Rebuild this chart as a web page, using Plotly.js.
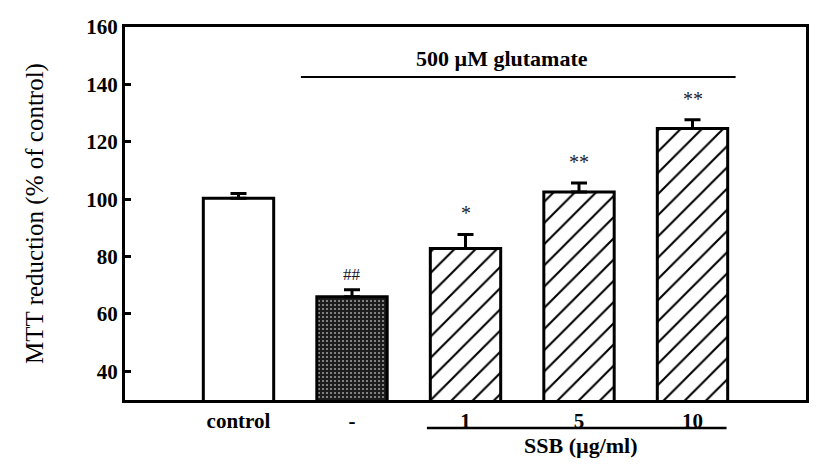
<!DOCTYPE html>
<html>
<head>
<meta charset="utf-8">
<script src="https://cdn.plot.ly/plotly-3.0.1.min.js"></script>
<style>html,body{margin:0;padding:0;background:#fff;}#chart{width:827px;height:468px;}</style>
</head>
<body>
<div id="chart"></div>
<script>
// Data
const categories = ['control', '-', '1', '5', '10'];
const means = [100.3, 66.0, 82.8, 102.5, 124.6];
const sems = [1.7, 2.4, 4.9, 3.1, 3.1];
const signifLabels = ['', '##', '*', '**', '**'];
const yTicks = [40, 60, 80, 100, 120, 140, 160];

const FONT = '"Liberation Serif", "Times New Roman", serif';

const controlBar = {
  type: 'bar', x: [categories[0]], y: [means[0]],
  width: 0.62,
  marker: {color: 'white', line: {color: 'black', width: 3}},
  error_y: {type: 'data', symmetric: false, array: [sems[0]], arrayminus: [0], color: 'black', thickness: 3, width: 8},
  showlegend: false, hoverinfo: 'skip'
};
const glutBar = {
  type: 'bar', x: [categories[1]], y: [means[1]],
  width: 0.62,
  marker: {color: '#1c1c1c', line: {color: 'black', width: 3},
    pattern: {shape: '.', bgcolor: '#1c1c1c', fgcolor: '#9a9a9a', size: 4, solidity: 0.22, fillmode: 'replace'}},
  error_y: {type: 'data', symmetric: false, array: [sems[1]], arrayminus: [0], color: 'black', thickness: 3, width: 8},
  showlegend: false, hoverinfo: 'skip'
};
const ssbBars = {
  type: 'bar', x: categories.slice(2), y: means.slice(2),
  width: 0.62,
  marker: {color: 'white', line: {color: 'black', width: 3},
    pattern: {shape: '/', bgcolor: 'white', fgcolor: 'black', size: 15, solidity: 0.14, fillmode: 'replace'}},
  error_y: {type: 'data', symmetric: false, array: sems.slice(2), arrayminus: [0, 0, 0], color: 'black', thickness: 3, width: 8},
  showlegend: false, hoverinfo: 'skip'
};

const annotations = [];
categories.forEach((c, i) => {
  if (signifLabels[i]) {
    const isHash = signifLabels[i] === '##';
    annotations.push({
      xref: 'x', yref: 'y', x: i, y: means[i] + sems[i],
      text: signifLabels[i], showarrow: false, yanchor: 'bottom', yshift: isHash ? 4 : 8,
      font: {family: FONT, size: isHash ? 17 : 20, color: '#1a1a2e'}
    });
  }
});
annotations.push({
  xref: 'paper', yref: 'paper', x: 0.553, y: 0.915, xanchor: 'center', yanchor: 'middle',
  text: '<b>500 \u00b5M glutamate</b>', showarrow: false,
  font: {family: FONT, size: 22, color: 'black'}
});
annotations.push({
  xref: 'paper', yref: 'paper', x: 0.67, y: -0.122, xanchor: 'center', yanchor: 'middle',
  text: '<b>SSB (\u00b5g/ml)</b>', showarrow: false,
  font: {family: FONT, size: 22, color: 'black'}
});

const layout = {
  width: 827, height: 468,
  margin: {l: 125, r: 21, t: 27, b: 68},
  paper_bgcolor: 'white', plot_bgcolor: 'white',
  font: {family: FONT, color: 'black'},
  bargap: 0.3,
  xaxis: {
    type: 'category', range: [-1, 5], showline: true, linewidth: 3, linecolor: 'black', mirror: true,
    ticks: '', showgrid: false, zeroline: false,
    tickfont: {family: FONT, size: 21, color: 'black', weight: 'bold'}
  },
  yaxis: {
    range: [30, 160], tickvals: yTicks, showline: true, linewidth: 3, linecolor: 'black', mirror: true,
    ticks: 'inside', ticklen: 6, tickwidth: 3, tickcolor: 'black', showgrid: false, zeroline: false,
    tickfont: {family: FONT, size: 21, color: 'black', weight: 'bold'},
    title: {text: 'MTT reduction (% of control)', font: {family: FONT, size: 25, color: 'black'}, standoff: 36}
  },
  shapes: [
    {type: 'line', xref: 'x', yref: 'paper', x0: 0.55, x1: 4.38, y0: 0.866, y1: 0.866, line: {color: 'black', width: 2}},
    {type: 'line', xref: 'x', yref: 'paper', x0: 1.66, x1: 4.3, y0: -0.075, y1: -0.075, line: {color: 'black', width: 2.5}}
  ],
  annotations: annotations
};

Plotly.newPlot('chart', [controlBar, glutBar, ssbBars], layout, {displayModeBar: false, staticPlot: true});
</script>
</body>
</html>
